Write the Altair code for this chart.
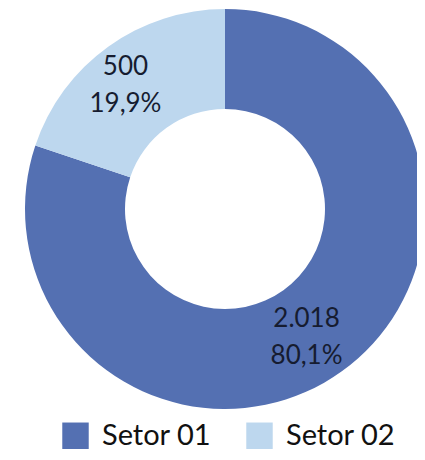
import altair as alt
import pandas as pd

categories = ["Setor 01", "Setor 02"]
values = [2018, 500]
value_labels = ["2.018", "500"]
pct_labels = ["80,1%", "19,9%"]
colors = ["#5470B2", "#BDD7EE"]

df = pd.DataFrame({
    "setor": categories,
    "valor": values,
    "ordem": list(range(len(categories))),
    "rotulo": [f"{v}\n{p}" for v, p in zip(value_labels, pct_labels)],
})

cx, cy = 217, 201

base = alt.Chart(df).encode(
    theta=alt.Theta("valor:Q", stack=True),
    order=alt.Order("ordem:Q", sort="ascending"),
)

arcs = base.mark_arc(innerRadius=100, outerRadius=200).encode(
    x=alt.value(cx),
    y=alt.value(cy),
    color=alt.Color(
        "setor:N",
        scale=alt.Scale(domain=categories, range=colors),
        legend=alt.Legend(
            title=None,
            orient="none",
            direction="horizontal",
            legendX=53,
            legendY=413,
            symbolType="square",
            symbolSize=700,
            symbolStrokeWidth=0,
            symbolOpacity=1,
            labelFont="Lato",
            labelFontSize=29,
            labelColor="#111111",
            labelOffset=12,
            columnPadding=33,
            labelLimit=300,
        ),
    ),
)

labels = base.mark_text(
    radius=155,
    lineBreak="\n",
    font="Lato",
    fontSize=26,
    lineHeight=37,
    color="#161c30",
    align="center",
    baseline="middle",
    dx=-9,
    dy=-16,
).encode(
    x=alt.value(cx),
    y=alt.value(cy),
    text="rotulo:N",
)

chart = (arcs + labels).properties(
    width=409, height=444, padding=0, autosize="none"
).configure_view(stroke=None)

chart.save("out.html", embed_options={"renderer": "svg", "actions": False})
